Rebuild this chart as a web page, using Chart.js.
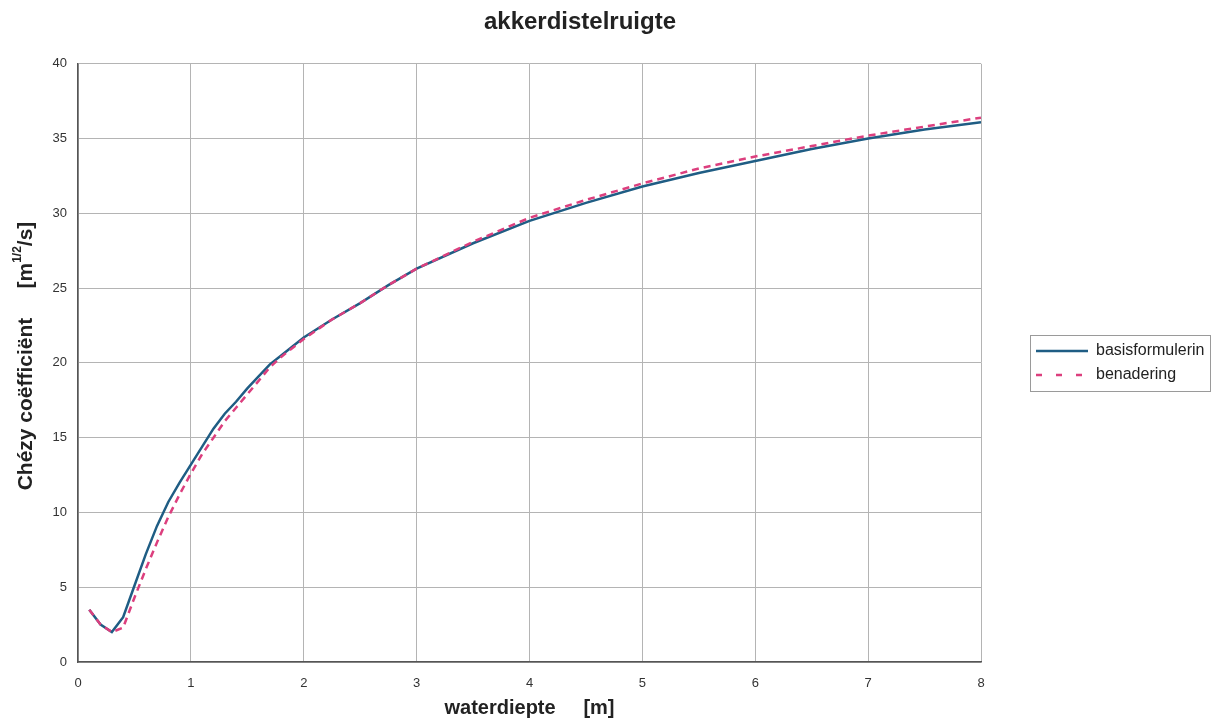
<!DOCTYPE html>
<html>
<head>
<meta charset="utf-8">
<title>akkerdistelruigte</title>
<script src="https://cdn.jsdelivr.net/npm/chart.js@4.4.1/dist/chart.umd.min.js"></script>
<style>
  html, body { margin: 0; padding: 0; background: #fff; }
  #wrap { width: 1222px; height: 726px; position: relative; }
</style>
</head>
<body>
<div id="wrap"><canvas id="chezyChart"></canvas></div>
<script>
// waterdiepte [m]
var depth = [0.1, 0.2, 0.3, 0.4, 0.5, 0.6, 0.7, 0.8, 0.9, 1.0,
             1.1, 1.2, 1.3, 1.4, 1.5, 1.6, 1.7, 1.8, 1.9, 2.0,
             2.25, 2.5, 2.75, 3.0, 3.5, 4.0, 4.5, 5.0, 5.5, 6.0,
             6.5, 7.0, 7.5, 8.0];
// Chezy coefficient, basisformulering
var basisValues = [3.5, 2.5, 2.0, 3.0, 5.1, 7.2, 9.1, 10.7, 12.0, 13.2,
                   14.4, 15.6, 16.6, 17.4, 18.3, 19.1, 19.9, 20.5, 21.1, 21.7,
                   22.9, 24.0, 25.2, 26.3, 28.0, 29.5, 30.7, 31.8, 32.7, 33.5,
                   34.3, 35.0, 35.6, 36.1];
// Chezy coefficient, benadering
var benaderingValues = [3.5, 2.5, 2.0, 2.3, 4.3, 6.2, 8.0, 9.7, 11.2, 12.6,
                        13.9, 15.0, 16.1, 17.0, 17.9, 18.8, 19.7, 20.4, 21.0, 21.6,
                        22.9, 24.0, 25.2, 26.3, 28.1, 29.7, 30.9, 32.0, 33.0, 33.8,
                        34.5, 35.2, 35.8, 36.4];
var seriesNames = ["basisformulerin", "benadering"];
var xTicks = [0, 1, 2, 3, 4, 5, 6, 7, 8];
var yTicks = [0, 5, 10, 15, 20, 25, 30, 35, 40];

var fontFamily = "'Liberation Sans', Arial, sans-serif";

function toPoints(values) {
    return depth.map(function (d, i) { return { x: d, y: values[i] }; });
}

// Legend width / offset, title offset, legend border and y-axis title with superscript
var layoutTweaks = {
    id: 'layoutTweaks',
    beforeLayout: function (chart) {
        var legend = chart.legend;
        if (legend && !legend._fixedFit) {
            var fit = legend.fit;
            legend.fit = function () {
                fit.call(this);
                this.width = 241;
            };
            legend._fixedFit = true;
        }
    },
    afterLayout: function (chart) {
        chart.legend.left += 47;
        chart.legend.right += 47;
        chart.titleBlock.left -= 31;
        chart.titleBlock.right -= 31;
    },
    afterDraw: function (chart) {
        var ctx = chart.ctx;
        var boxes = chart.legend.legendHitBoxes;

        // legend border
        if (boxes && boxes.length) {
            var top = boxes[0].top - 8;
            var last = boxes[boxes.length - 1];
            var bottom = last.top + last.height + 8;
            ctx.save();
            ctx.strokeStyle = '#9a9a9a';
            ctx.lineWidth = 1;
            ctx.strokeRect(chart.legend.left + 2.5, Math.round(top) + 0.5, 180, Math.round(bottom - top));
            ctx.restore();
        }

        // y-axis title
        var main = 'bold 21px ' + fontFamily;
        var sup = 'bold 12px ' + fontFamily;
        var partA = 'Chézy coëfficiënt     [m';
        var partB = '1/2';
        var partC = '/s]';
        ctx.save();
        ctx.fillStyle = '#222';
        ctx.textBaseline = 'middle';
        ctx.textAlign = 'left';
        ctx.font = main;
        var wA = ctx.measureText(partA).width;
        var wC = ctx.measureText(partC).width;
        ctx.font = sup;
        var wB = ctx.measureText(partB).width;
        var total = wA + wB + wC;
        ctx.translate(26, 356);
        ctx.rotate(-Math.PI / 2);
        var x = -total / 2;
        ctx.font = main;
        ctx.fillText(partA, x, 0);
        ctx.font = sup;
        ctx.fillText(partB, x + wA, -8);
        ctx.font = main;
        ctx.fillText(partC, x + wA + wB, 0);
        ctx.restore();
    }
};

new Chart(document.getElementById('chezyChart'), {
    type: 'line',
    data: {
        datasets: [{
            label: seriesNames[0],
            data: toPoints(basisValues),
            borderColor: '#1f5d84',
            backgroundColor: '#1f5d84',
            borderWidth: 2.5,
            pointRadius: 0,
            tension: 0,
            order: 1
        }, {
            label: seriesNames[1],
            data: toPoints(benaderingValues),
            borderColor: '#dc3f7e',
            backgroundColor: '#dc3f7e',
            borderWidth: 2.5,
            borderDash: [7, 5],
            pointRadius: 0,
            tension: 0,
            order: 0
        }]
    },
    options: {
        responsive: true,
        maintainAspectRatio: false,
        animation: false,
        layout: { padding: 0 },
        scales: {
            x: {
                type: 'linear',
                min: 0,
                max: 8,
                afterBuildTicks: function (scale) {
                    scale.ticks = xTicks.map(function (v) { return { value: v }; });
                },
                afterFit: function (scale) { scale.height = 64; },
                grid: { color: '#b4b4b4', lineWidth: 1, drawTicks: false },
                border: { color: '#555', width: 1.5 },
                ticks: {
                    padding: 14,
                    color: '#333',
                    font: { family: fontFamily, size: 13 }
                },
                title: {
                    display: true,
                    text: 'waterdiepte     [m]',
                    color: '#222',
                    font: { family: fontFamily, size: 20, weight: 'bold' },
                    padding: { top: 0, bottom: 6 }
                }
            },
            y: {
                min: 0,
                max: 40,
                afterBuildTicks: function (scale) {
                    scale.ticks = yTicks.map(function (v) { return { value: v }; });
                },
                afterFit: function (scale) { scale.width = 78; },
                grid: { color: '#b4b4b4', lineWidth: 1, drawTicks: false },
                border: { color: '#555', width: 1.5 },
                ticks: {
                    padding: 11,
                    color: '#333',
                    font: { family: fontFamily, size: 13 }
                }
            }
        },
        plugins: {
            title: {
                display: true,
                text: 'akkerdistelruigte',
                color: '#222',
                font: { family: fontFamily, size: 24, weight: 'bold' },
                padding: { top: 8, bottom: 27 }
            },
            legend: {
                position: 'right',
                labels: {
                    usePointStyle: true,
                    pointStyle: 'line',
                    pointStyleWidth: 52,
                    padding: 8,
                    color: '#222',
                    font: { family: fontFamily, size: 16 },
                    generateLabels: function (chart) {
                        var items = Chart.defaults.plugins.legend.labels.generateLabels(chart);
                        items.forEach(function (item) {
                            var ds = chart.data.datasets[item.datasetIndex];
                            item.strokeStyle = ds.borderColor;
                            item.lineWidth = ds.borderWidth;
                            item.lineDash = ds.borderDash ? [6, 14] : [];
                        });
                        return items;
                    },
                    sort: function (a, b) { return a.datasetIndex - b.datasetIndex; }
                }
            },
            tooltip: { enabled: false }
        }
    },
    plugins: [layoutTweaks]
});
</script>
</body>
</html>
